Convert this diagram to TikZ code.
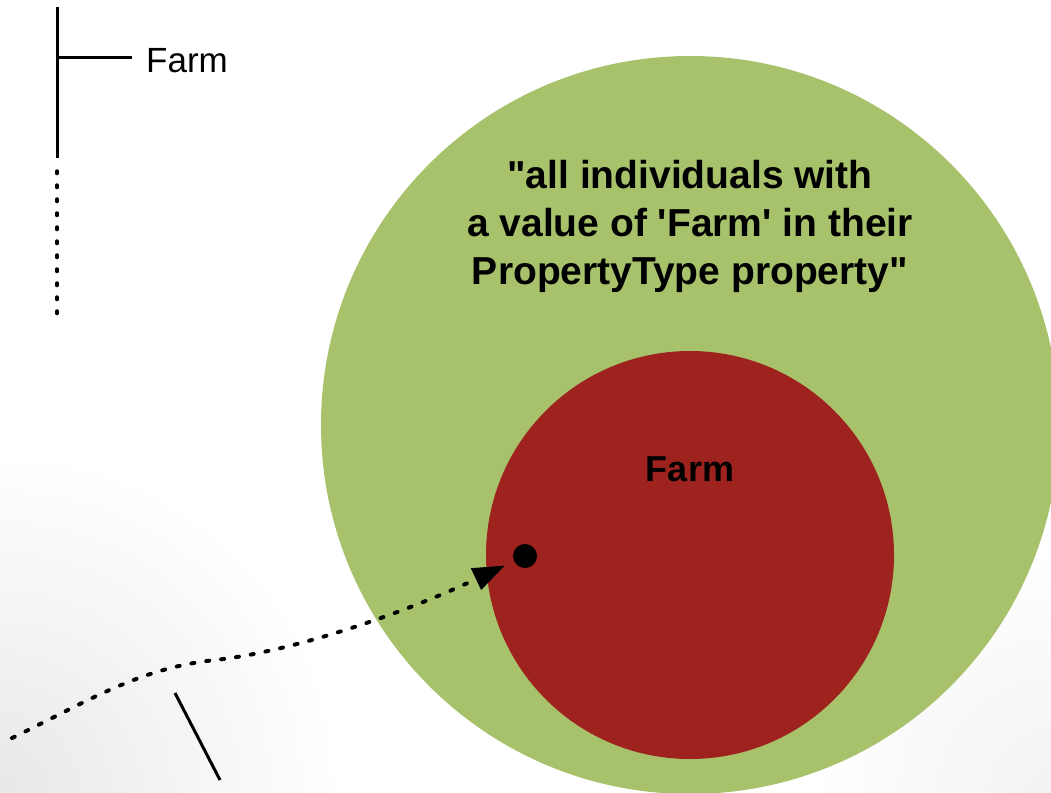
\documentclass[tikz,border=0pt]{standalone}
\usepackage{fontspec}
\setmainfont{Liberation Sans}
\usetikzlibrary{arrows.meta}
\definecolor{classgreen}{RGB}{168,194,108}
\definecolor{classred}{RGB}{158,35,31}

\begin{document}
\begin{tikzpicture}[x=1pt, y=-1pt,
    every node/.style={inner sep=0pt},
    classlabel/.style={font=\bfseries\fontsize{39}{48}\selectfont, align=center},
    dotline/.style={line width=4pt, line cap=round, dash pattern=on 3pt off 12pt}]
    \useasboundingbox (0,0) rectangle (1051,792);
    \clip (0,0) rectangle (1051,792);

    % Shadow in the lower corners
    \shade[inner color=black!9, outer color=white] (0,792) circle (340pt);
    \shade[inner color=black!5, outer color=white] (1051,792) circle (240pt);

    % Classes
    \begin{scope}
        \clip (0,57) rectangle (1051,792);
        \node[circle, fill=classgreen, minimum size=738pt] (outer) at (690,425) {};
    \end{scope}
    \node[circle, fill=classred, minimum size=408pt] (inner) at (690,555) {};

    \node[classlabel] (outertext) at (690,226) {\textquotedbl all individuals with\\a value of \textquotesingle Farm\textquotesingle{} in their\\PropertyType property\textquotedbl};
    \node[font=\bfseries\fontsize{36}{43}\selectfont, anchor=base] (innertext) at (690,481) {Farm};

    % Individual
    \node[circle, fill=black, minimum size=24pt] (indiv) at (525,556) {};
    \coordinate (from) at (12,738);
    \coordinate (bend) at (215,660);
    \draw[dotline, -{Triangle[length=32pt, width=23pt]}, shorten >=10pt] (from) .. controls (90,700) and (140,668) .. (bend) .. controls (290,652) and (400,615) .. (indiv);

    % Property tree
    \coordinate (top) at (57,7);
    \coordinate (branch) at (57,58);
    \coordinate (split) at (57,158);
    \coordinate (dotstart) at (57,171);
    \coordinate (bottom) at (57,318);
    \node[font=\fontsize{35}{42}\selectfont, anchor=base west] (farmvalue) at (146,73) {Farm};
    \draw[line width=3pt] (top) -- (split);
    \draw[line width=3pt, shorten >=14pt] (branch) -- (branch -| farmvalue.west);
    \draw[dotline, line width=3.5pt, dash pattern=on 2.5pt off 11.5pt] (dotstart) -- (bottom);

    % Stray stroke
    \coordinate (strokea) at (175,693);
    \coordinate (strokeb) at (220,780);
    \draw[line width=3pt] (strokea) -- (strokeb);
\end{tikzpicture}
\end{document}
